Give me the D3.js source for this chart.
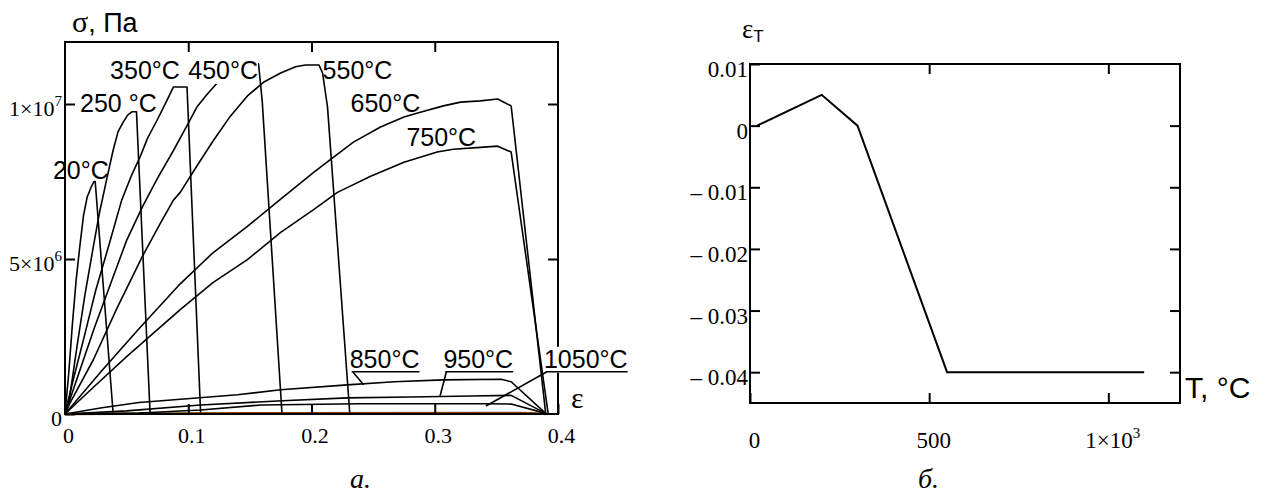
<!DOCTYPE html>
<html>
<head>
<meta charset="utf-8">
<script src="https://cdn.jsdelivr.net/npm/d3@7"></script>
<style>
  body { margin: 0; background: #fff; }
</style>
</head>
<body>
<div id="canvas"></div>
<script>
"use strict"

/***********************************
 DATA
 left chart: strain ε vs stress σ (values in MPa, scaled to Pa when drawn)
************************************/
let curve20 = [[0, 0], [0.003, 1.3], [0.006, 2.9], [0.009, 4.3], [0.012, 5.4], [0.015, 6.4], [0.018, 7.0],
    [0.021, 7.3], [0.0235, 7.5], [0.0245, 7.5], [0.039, 0.05]];
let curve250 = [[0, 0], [0.004, 0.6], [0.0098, 2.2], [0.016, 3.8], [0.023, 5.4], [0.028, 6.5], [0.034, 7.6],
    [0.039, 8.5], [0.043, 9.1], [0.047, 9.4], [0.051, 9.65], [0.0545, 9.75], [0.058, 9.75], [0.069, 0.05]];
let curve350 = [[0, 0], [0.006, 1.0], [0.015, 2.4], [0.025, 4.0], [0.036, 5.5], [0.046, 6.9], [0.054, 7.7],
    [0.061, 8.3], [0.067, 8.9], [0.075, 9.5], [0.08, 9.9], [0.085, 10.3], [0.088, 10.55], [0.099, 10.55], [0.11, 0.05]];
let curve450 = [[0, 0], [0.012, 1.4], [0.024, 2.8], [0.037, 4.2], [0.05, 5.6], [0.063, 6.7], [0.075, 7.6],
    [0.088, 8.5], [0.099, 9.3], [0.107, 9.9], [0.115, 10.3], [0.124, 10.7], [0.135, 11.0], [0.146, 11.2],
    [0.157, 11.3], [0.16, 10.1], [0.176, 0.05]];
let curve550 = [[0, 0], [0.004, 0.35], [0.023, 1.75], [0.042, 3.4], [0.063, 5.1], [0.078, 6.2], [0.088, 6.9],
    [0.0935, 7.15], [0.107, 8.0], [0.12, 8.8], [0.134, 9.6], [0.148, 10.26], [0.161, 10.7], [0.175, 11.0],
    [0.187, 11.2], [0.195, 11.26], [0.206, 11.26], [0.209, 11.0], [0.213, 9.9], [0.231, 0.05]];
let curve650 = [[0, 0], [0.03, 1.4], [0.06, 2.75], [0.0935, 4.2], [0.12, 5.2], [0.148, 6.05], [0.175, 6.93],
    [0.202, 7.8], [0.215, 8.2], [0.234, 8.77], [0.256, 9.26], [0.275, 9.58], [0.289, 9.74], [0.307, 9.94],
    [0.321, 10.06], [0.337, 10.1], [0.351, 10.16], [0.362, 9.94], [0.39, 0.02]];
let curve750 = [[0, 0], [0.02, 0.75], [0.05, 1.85], [0.0935, 3.37], [0.12, 4.24], [0.148, 4.98], [0.175, 5.86],
    [0.202, 6.6], [0.221, 7.15], [0.248, 7.67], [0.275, 8.12], [0.302, 8.45], [0.315, 8.54], [0.337, 8.6],
    [0.351, 8.64], [0.362, 8.45], [0.392, 0.02]];
let curve850 = [[0, 0], [0.03, 0.2], [0.06, 0.37], [0.099, 0.49], [0.14, 0.62], [0.175, 0.78], [0.229, 0.94],
    [0.267, 1.04], [0.307, 1.1], [0.354, 1.12], [0.362, 1.04], [0.39, 0.02]];
let curve950 = [[0, 0], [0.05, 0.1], [0.11, 0.29], [0.172, 0.42], [0.229, 0.52], [0.28, 0.55], [0.33, 0.58],
    [0.362, 0.6], [0.39, 0.02]];
let curve1050 = [[0, 0], [0.06, 0.03], [0.11, 0.13], [0.159, 0.29], [0.24, 0.33], [0.34, 0.33], [0.362, 0.32],
    [0.39, 0.02]];
let curveBase = [[0, 0], [0.09, 0.02], [0.37, 0.03], [0.385, 0.02], [0.39, 0]];

let curveTemps = ["20°C", "250 °C", "350°C", "450°C", "550°C", "650°C", "750°C", "850°C", "950°C", "1050°C"];

let strainTicks = [0, 0.1, 0.2, 0.3, 0.4];
let strainTickLabels = ["0", "0.1", "0.2", "0.3", "0.4"];
let stressTicks = [0, 5e6, 1e7];
let stressTickLabels = [["0", ""], ["5×10", "6"], ["1×10", "7"]];

// right chart: thermal strain εT vs temperature T
let tempValues = [20, 200, 300, 550, 1100];
let thermalStrain = [0, 0.005, 0, -0.04, -0.04];
let tempTicks = [0, 500, 1000];
let tempTickLabels = [["0", ""], ["500", ""], ["1×10", "3"]];
let thermalTicks = [0.01, 0, -0.01, -0.02, -0.03, -0.04];
let thermalTickLabels = ["0.01", "0", "– 0.01", "– 0.02", "– 0.03", "– 0.04"];

/***********************************
 CONFIGURATION
************************************/
let svgWidth = 1267;
let svgHeight = 495;
let serif = "'Liberation Serif', 'Times New Roman', serif";
let sans = "'Liberation Sans', Arial, sans-serif";
let tickLen = 10;

let svg = d3.select("#canvas")
    .append("svg")
    .attr("width", svgWidth)
    .attr("height", svgHeight);

function styleAxis(g, size) {
    g.select(".domain").remove();
    g.attr("font-family", serif).attr("font-size", size);
    g.selectAll(".tick line").attr("stroke", "#000").attr("stroke-width", 2);
    g.selectAll(".tick text").attr("fill", "#000");
}

function superscriptLabels(g, labels) {
    g.selectAll(".tick text").each(function (d, i) {
        let t = d3.select(this);
        t.text(labels[i][0]);
        if (labels[i][1]) {
            t.append("tspan").attr("dy", -10).attr("font-size", 15).text(labels[i][1]);
        }
    });
}

/***********************************
 LEFT CHART (а.)
************************************/
let xScale = d3.scaleLinear().domain([0, 0.4]).range([65, 558]);
let yScale = d3.scaleLinear().domain([0, 1.2e7]).range([414, 42]);

let gA = svg.append("g");

let stressLine = d3.line()
    .x(d => xScale(d[0]))
    .y(d => yScale(d[1] * 1e6));

gA.append("path")
    .datum(curveBase)
    .attr("d", stressLine)
    .attr("fill", "none")
    .attr("stroke", "#804000")
    .attr("stroke-width", 2.5);

let curves = [curve20, curve250, curve350, curve450, curve550, curve650, curve750, curve850, curve950, curve1050];
gA.selectAll("path.curve")
    .data(curves)
    .join("path")
    .attr("class", "curve")
    .attr("d", stressLine)
    .attr("fill", "none")
    .attr("stroke", "#000")
    .attr("stroke-width", 1.6)
    .attr("stroke-linejoin", "round");

// frame
gA.append("rect")
    .attr("x", xScale(0))
    .attr("y", yScale(1.2e7))
    .attr("width", xScale(0.4) - xScale(0))
    .attr("height", yScale(0) - yScale(1.2e7))
    .attr("fill", "none")
    .attr("stroke", "#000")
    .attr("stroke-width", 2);

// axes, ticks pointing inward
gA.append("g")
    .attr("transform", `translate(0, ${yScale(0)})`)
    .call(d3.axisBottom(xScale).tickValues(strainTicks).tickSize(-tickLen).tickPadding(13)
        .tickFormat((d, i) => strainTickLabels[i]))
    .call(g => styleAxis(g, 22))
    .call(g => g.selectAll(".tick text").attr("dx", 3));

gA.append("g")
    .attr("transform", `translate(${xScale(0)}, 0)`)
    .call(d3.axisLeft(yScale).tickValues(stressTicks).tickSize(-tickLen).tickPadding(3))
    .call(g => styleAxis(g, 22))
    .call(g => superscriptLabels(g, stressTickLabels))
    .call(g => g.selectAll(".tick text").attr("dy", "0.5em"));

gA.append("g")
    .attr("transform", `translate(0, ${yScale(1.2e7)})`)
    .call(d3.axisTop(xScale).tickValues([0.1, 0.2, 0.3]).tickSize(-tickLen).tickFormat(""))
    .call(g => styleAxis(g, 22));

gA.append("g")
    .attr("transform", `translate(${xScale(0.4)}, 0)`)
    .call(d3.axisRight(yScale).tickValues([5e6, 1e7]).tickSize(-tickLen).tickFormat(""))
    .call(g => styleAxis(g, 22));

// temperature labels (anchor in data units: strain, MPa)
let labelAnchors = [[-0.0098, 7.57], [0.0122, 9.74], [0.0366, 10.81], [0.1, 10.81], [0.209, 10.81],
    [0.2317, 9.74], [0.277, 8.64], [0.231, 1.49], [0.307, 1.49], [0.3886, 1.49]];
let leaderEnds = { 7: [0.2423, 0.94], 8: [0.3041, 0.55], 9: [0.3415, 0.26] };
let opaqueLabels = [3, 9];

curveTemps.forEach((label, i) => {
    let x = xScale(labelAnchors[i][0]);
    let y = yScale(labelAnchors[i][1] * 1e6);
    let t = gA.append("text")
        .attr("x", x)
        .attr("y", y)
        .attr("font-family", sans)
        .attr("font-size", 25)
        .attr("fill", "#000")
        .text(label);
    let box = t.node().getBBox();
    if (opaqueLabels.includes(i)) {
        gA.insert("rect", () => t.node())
            .attr("x", box.x)
            .attr("y", box.y + 2)
            .attr("width", box.width)
            .attr("height", box.height - 2)
            .attr("fill", "#fff");
    }
    if (leaderEnds[i]) {
        let uy = y + 4;
        gA.append("line")
            .attr("x1", box.x + 2).attr("x2", box.x + box.width)
            .attr("y1", uy).attr("y2", uy)
            .attr("stroke", "#000").attr("stroke-width", 1.6);
        gA.append("line")
            .attr("x1", box.x + 3).attr("y1", uy)
            .attr("x2", xScale(leaderEnds[i][0])).attr("y2", yScale(leaderEnds[i][1] * 1e6))
            .attr("stroke", "#000").attr("stroke-width", 1.6);
    }
});

// axis titles
let sigmaTitle = svg.append("text")
    .attr("x", 72)
    .attr("y", 32)
    .attr("font-family", sans)
    .attr("font-size", 27);
sigmaTitle.append("tspan").attr("font-family", serif).attr("font-size", 30).text("σ");
sigmaTitle.append("tspan").text(", Па");

svg.append("text")
    .attr("x", 571)
    .attr("y", 408)
    .attr("font-family", serif)
    .attr("font-size", 30)
    .text("ε");

svg.append("text")
    .attr("x", 350)
    .attr("y", 488)
    .attr("font-family", serif)
    .attr("font-style", "italic")
    .attr("font-size", 28)
    .text("а.");

/***********************************
 RIGHT CHART (б.)
************************************/
let tScale = d3.scaleLinear().domain([0, 1200]).range([750, 1180]);
let eScale = d3.scaleLinear().domain([-0.045, 0.01]).range([403, 64]);

let gB = svg.append("g");

gB.append("path")
    .datum(tempValues.map((t, i) => [t, thermalStrain[i]]))
    .attr("d", d3.line().x(d => tScale(d[0])).y(d => eScale(d[1])))
    .attr("fill", "none")
    .attr("stroke", "#000")
    .attr("stroke-width", 2);

gB.append("rect")
    .attr("x", tScale(0))
    .attr("y", eScale(0.01))
    .attr("width", tScale(1200) - tScale(0))
    .attr("height", eScale(-0.045) - eScale(0.01))
    .attr("fill", "none")
    .attr("stroke", "#000")
    .attr("stroke-width", 2);

gB.append("g")
    .attr("transform", `translate(0, ${eScale(-0.045)})`)
    .call(d3.axisBottom(tScale).tickValues(tempTicks).tickSize(-tickLen).tickPadding(29))
    .call(g => styleAxis(g, 23))
    .call(g => superscriptLabels(g, tempTickLabels))
    .call(g => g.selectAll(".tick text").attr("dx", 4));

gB.append("g")
    .attr("transform", `translate(${tScale(0)}, 0)`)
    .call(d3.axisLeft(eScale).tickValues(thermalTicks).tickSize(-tickLen).tickPadding(2)
        .tickFormat((d, i) => thermalTickLabels[i]))
    .call(g => styleAxis(g, 23))
    .call(g => g.selectAll(".tick text").attr("dy", "0.55em"));

gB.append("g")
    .attr("transform", `translate(0, ${eScale(0.01)})`)
    .call(d3.axisTop(tScale).tickValues([500, 1000]).tickSize(-tickLen).tickFormat(""))
    .call(g => styleAxis(g, 23));

gB.append("g")
    .attr("transform", `translate(${tScale(1200)}, 0)`)
    .call(d3.axisRight(eScale).tickValues(thermalTicks.slice(1)).tickSize(-tickLen).tickFormat(""))
    .call(g => styleAxis(g, 23));

let epsTitle = svg.append("text")
    .attr("x", 742)
    .attr("y", 38)
    .attr("font-family", serif)
    .attr("font-size", 27);
epsTitle.append("tspan").text("ε");
epsTitle.append("tspan").attr("font-family", sans).attr("font-size", 17).attr("dy", 4).text("T");

svg.append("text")
    .attr("x", 1185)
    .attr("y", 398)
    .attr("font-family", sans)
    .attr("font-size", 30)
    .text("T, °C");

svg.append("text")
    .attr("x", 918)
    .attr("y", 488)
    .attr("font-family", serif)
    .attr("font-style", "italic")
    .attr("font-size", 28)
    .text("б.");
</script>
</body>
</html>
